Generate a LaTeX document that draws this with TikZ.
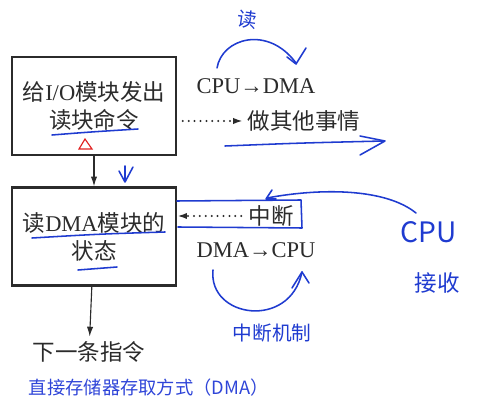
\documentclass[tikz,border=0pt]{standalone}
\usepackage{fontspec}
\setmainfont{Liberation Serif}
\newfontfamily\cjk{Noto Sans CJK SC}
\usetikzlibrary{arrows.meta}
\definecolor{BoxGray}{HTML}{2B2B2B}
\definecolor{InkBlue}{HTML}{1F3BD0}
\definecolor{CaptionBlue}{HTML}{2F45D8}
\definecolor{NoteRed}{HTML}{E02020}

\begin{document}
\begin{tikzpicture}[x=0.025cm, y=-0.025cm, every node/.style={font=\fontsize{16}{20}\selectfont, text=BoxGray}]
  \tikzstyle{box}=[rectangle, draw=BoxGray, line width=1.6pt, minimum width=4.1cm,
  minimum height=2.45cm, align=center, inner sep=0pt]
  \tikzstyle{flow}=[-{Latex[length=7pt,width=4.5pt]}, line width=0.8pt, color=BoxGray]
  \tikzstyle{dots}=[flow, line width=1.6pt, line cap=round, dash pattern=on 0pt off 4.2pt]
  \tikzstyle{ink}=[InkBlue, line width=1.1pt, line cap=round, line join=round]
  \tikzstyle{hand}=[font=\cjk\fontsize{14}{16}\selectfont, text=InkBlue]
  \useasboundingbox (0,0) rectangle (480,418);
  % printed flow
  \node[box] (order) at (94,106) {{\cjk 给}I/O{\cjk 模块发出}\\{\cjk 读块命令}};
  \node[box] (status) at (94,236.5) {{\cjk 读}DMA{\cjk 模块的}\\{\cjk 状态}};
  \node (next) at (89,352) {\cjk 下一条指令};
  \node (cpudma) at (256,86) {CPU→DMA};
  \node[anchor=west] (other) at (243,121) {\cjk 做其他事情};
  \node[anchor=west] (intr) at (244,216) {\cjk 中断};
  \node (dmacpu) at (256,250) {DMA→CPU};
  \node[anchor=west, font=\cjk\fontsize{13}{15}\selectfont, text=CaptionBlue] (caption) at (24,388)
    {直接存储器存取方式（DMA）};
  \draw[flow] (order) -- (status);
  \draw[flow] (status) -- (next);
  \draw[dots] ([xshift=4pt]order.east |- other.west) -- (other.west);
  \draw[dots] ([xshift=-2pt]intr.west) -- (intr.west -| status.east);
  % hand notes
  \draw[NoteRed, line width=0.8pt] (79,149) -- (85,139) -- (92,149) -- cycle;
  \draw[ink] (52,135) .. controls (90,132) .. (138,129);
  \draw[ink] (125,166) -- (125,182) (119,171) -- (125,182) -- (133,167);
  \draw[ink] (217,68) .. controls (222,38) and (268,25) .. (296,63);
  \draw[ink] (287,57) -- (296,64) -- (306,48);
  \node[hand, rotate=-8] (hread) at (247,20) {读};
  \draw[ink] (225,146) .. controls (300,143) .. (384,141);
  \draw[ink] (360,136) -- (385,141) -- (360,155);
  \draw[ink] (32,238) .. controls (100,234) .. (165,232);
  \draw[ink] (78,270) -- (117,267);
  \draw[ink] (177,201) -- (301,200) -- (302,228) -- (178,227);
  \draw[ink] (416,213) .. controls (385,188) and (320,188) .. (267,198);
  \draw[ink] (272,190) -- (266,199) -- (276,199);
  \draw[ink] (213,270) .. controls (208,318) and (290,330) .. (302,272);
  \draw[ink] (292,288) -- (302,272) -- (309,283);
  \node[hand] (hmech) at (272,333) {中断机制};
  \node[hand, font=\cjk\fontsize{20}{22}\selectfont] (hcpu) at (429,232) {CPU};
  \node[hand, font=\cjk\fontsize{16}{18}\selectfont] (hrecv) at (437,283) {接收};
\end{tikzpicture}
\end{document}
